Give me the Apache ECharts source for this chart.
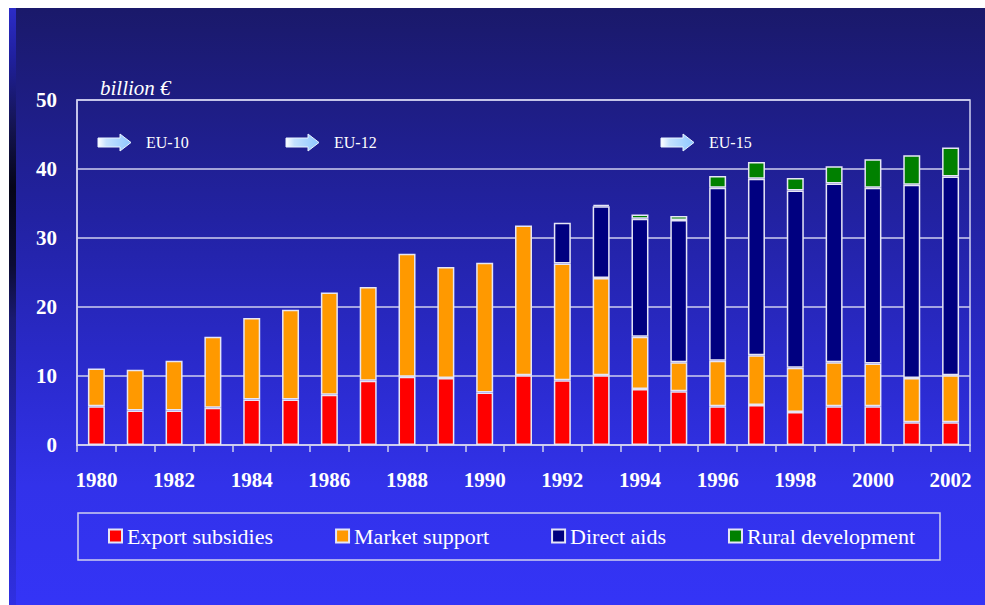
<!DOCTYPE html>
<html>
<head>
<meta charset="utf-8">
<script src="https://cdn.jsdelivr.net/npm/echarts@6/dist/echarts.min.js"></script>
<style>
  html, body { margin: 0; padding: 0; background: #ffffff; }
  #chart { position: absolute; left: 9px; top: 8px; width: 976px; height: 597px; }
</style>
</head>
<body>
<div id="chart"></div>
<script>
var years = ['1980', '1981', '1982', '1983', '1984', '1985', '1986', '1987', '1988', '1989', '1990', '1991',
  '1992', '1993', '1994', '1995', '1996', '1997', '1998', '1999', '2000', '2001', '2002'];
var exportSubsidies = [5.6, 5.0, 5.0, 5.4, 6.6, 6.6, 7.3, 9.3, 9.9, 9.7, 7.6, 10.1,
  9.4, 10.1, 8.1, 7.8, 5.6, 5.8, 4.8, 5.6, 5.6, 3.3, 3.3];
var marketSupport = [5.5, 5.9, 7.2, 10.3, 11.8, 13.0, 14.8, 13.6, 17.8, 16.1, 18.8, 21.7,
  16.9, 14.1, 7.6, 4.2, 6.6, 7.2, 6.4, 6.4, 6.2, 6.4, 6.8];
var directAids = [null, null, null, null, null, null, null, null, null, null, null, null,
  5.9, 10.4, 17.1, 20.6, 25.1, 25.6, 25.7, 25.9, 25.5, 28.0, 28.8];
var ruralDevelopment = [null, null, null, null, null, null, null, null, null, null, null, null,
  null, 0.2, 0.6, 0.6, 1.7, 2.4, 1.8, 2.5, 4.1, 4.3, 4.2];
var yTicks = [0, 50, 10]; // min, max, interval
var enlargements = [
  { label: 'EU-10', x: 89 },
  { label: 'EU-12', x: 277 },
  { label: 'EU-15', x: 652 }
];

var serif = "'Liberation Serif', 'Times New Roman', serif";
var lineColor = '#cfcfef';
var barBorder = { borderColor: '#e6e6f6', borderWidth: 1.5 };

// arrow + label for each enlargement
var arrowGraphics = [];
enlargements.forEach(function (e) {
  arrowGraphics.push({
    type: 'polygon',
    x: e.x, y: 134.5,
    shape: { points: [[0, -4.5], [22, -4.5], [22, -8.5], [33, 0], [22, 8.5], [22, 4.5], [0, 4.5]] },
    style: {
      fill: new echarts.graphic.LinearGradient(0, 0, 1, 0, [
        { offset: 0, color: '#ffffff' },
        { offset: 0.25, color: '#c4e2ff' },
        { offset: 1, color: '#8ec8ff' }
      ]),
      stroke: '#e8f4ff', lineWidth: 1
    }
  });
  arrowGraphics.push({
    type: 'text',
    x: e.x + 48, y: 134.5,
    style: { text: e.label, fill: '#ffffff', font: '16px ' + serif, textVerticalAlign: 'middle' }
  });
});

var myChart = echarts.init(document.getElementById('chart'), null, { renderer: 'svg' });
myChart.setOption({
  animation: false,
  backgroundColor: new echarts.graphic.LinearGradient(0, 0, 0, 1, [
    { offset: 0, color: '#1a196a' },
    { offset: 0.35, color: '#2222a2' },
    { offset: 0.6, color: '#2a2acc' },
    { offset: 0.8, color: '#3232ea' },
    { offset: 1, color: '#3434f6' }
  ]),
  graphic: [
    {
      type: 'rect', left: 0, top: 0, z: -1,
      shape: { width: 7, height: 597 },
      style: {
        fill: new echarts.graphic.LinearGradient(0, 0, 0, 1, [
          { offset: 0, color: '#2c2cc8' },
          { offset: 0.08, color: '#2020a0' },
          { offset: 0.2, color: '#141450' },
          { offset: 0.3, color: '#050518' },
          { offset: 0.43, color: '#0c0c34' },
          { offset: 0.52, color: '#1a1a70' },
          { offset: 0.75, color: '#2424b4' },
          { offset: 1, color: '#3030e2' }
        ])
      }
    },
    {
      type: 'text', x: 91, y: 80,
      style: { text: 'billion €', fill: '#ffffff', font: 'italic 21px ' + serif, textVerticalAlign: 'middle' }
    }
  ].concat(arrowGraphics),
  grid: {
    left: 68, top: 92, width: 893, height: 345,
    show: true, borderColor: lineColor, borderWidth: 1.5
  },
  legend: {
    left: 69, top: 505,
    padding: [12, 25, 13, 30],
    borderColor: lineColor, borderWidth: 1.5,
    itemWidth: 13, itemHeight: 13, itemGap: 62,
    icon: 'rect',
    textStyle: { color: '#ffffff', fontFamily: serif, fontSize: 22 },
    data: ['Export subsidies', 'Market support', 'Direct aids', 'Rural development']
  },
  xAxis: {
    type: 'category',
    data: years,
    axisLine: { lineStyle: { color: lineColor, width: 1.5 } },
    axisTick: { show: true, interval: 0, length: 7, lineStyle: { color: lineColor, width: 1.5 } },
    axisLabel: { interval: 1, margin: 24, color: '#ffffff', fontFamily: serif, fontWeight: 'bold', fontSize: 21 }
  },
  yAxis: {
    type: 'value',
    min: yTicks[0], max: yTicks[1], interval: yTicks[2],
    axisLine: { show: true, lineStyle: { color: lineColor, width: 1.5 } },
    axisTick: { show: false },
    splitLine: { lineStyle: { color: lineColor, width: 1.5 } },
    axisLabel: { margin: 20, color: '#ffffff', fontFamily: serif, fontWeight: 'bold', fontSize: 21 }
  },
  series: [
    { name: 'Export subsidies', type: 'bar', stack: 'total', barWidth: 17, data: exportSubsidies,
      itemStyle: Object.assign({ color: '#ff0000' }, barBorder) },
    { name: 'Market support', type: 'bar', stack: 'total', barWidth: 17, data: marketSupport,
      itemStyle: Object.assign({ color: '#ff9900' }, barBorder) },
    { name: 'Direct aids', type: 'bar', stack: 'total', barWidth: 17, data: directAids,
      itemStyle: Object.assign({ color: '#000080' }, barBorder) },
    { name: 'Rural development', type: 'bar', stack: 'total', barWidth: 17, data: ruralDevelopment,
      itemStyle: Object.assign({ color: '#008000' }, barBorder) }
  ]
});
</script>
</body>
</html>
